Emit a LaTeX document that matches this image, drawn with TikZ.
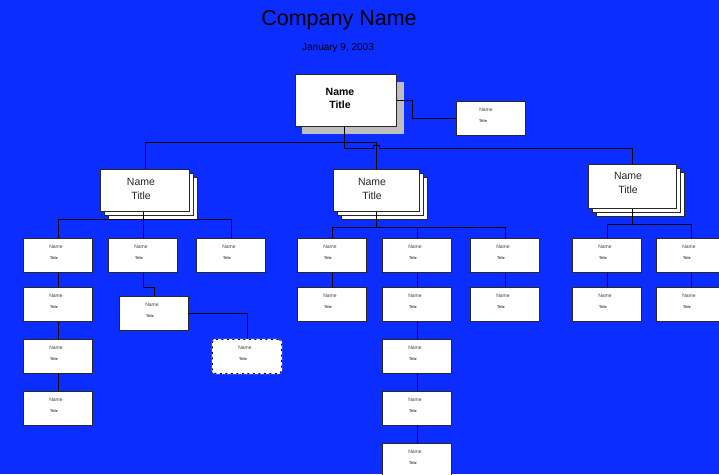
\documentclass[tikz,border=0pt]{standalone}
\usepackage{fontspec}
\setmainfont{Liberation Sans}
\definecolor{bgblue}{RGB}{11,45,255}
\definecolor{shadowgray}{RGB}{190,190,190}
\definecolor{edgegray}{RGB}{40,40,40}

% small position box: name, left x, top y
\newcommand\orgbox[4][sbox]{%
  \node[#1] (#2) at (#3,#4) {};
  \node[nametext] (#2-n) at ([xshift=-2pt,yshift=-9pt]#2.north) {Name};
  \node[titletext] (#2-t) at ([xshift=-4pt,yshift=-20pt]#2.north) {Title};
}
% manager box drawn as a stack of three sheets: name, left x, top y, width, height
\newcommand\stackbox[5]{%
  \node[box, minimum width=#4pt, minimum height=#5pt] (#1-back) at (#2+8,#3+8) {};
  \node[box, minimum width=#4pt, minimum height=#5pt] (#1-mid) at (#2+4,#3+4) {};
  \node[box, minimum width=#4pt, minimum height=#5pt] (#1) at (#2,#3) {};
}

\begin{document}
\begin{tikzpicture}[x=1pt,y=-1pt,
  box/.style={draw=edgegray, fill=white, line width=0.9pt, inner sep=0pt, anchor=north west},
  sbox/.style={box, minimum width=69pt, minimum height=34pt},
  dbox/.style={sbox, draw=black, dash pattern=on 2pt off 3.5pt, rounded corners=3pt,
    preaction={draw=white, solid, line width=1.2pt}},
  nametext/.style={inner sep=0pt, font=\fontsize{5}{6}\selectfont, text=black!75},
  titletext/.style={inner sep=0pt, font=\fontsize{3.8}{4.5}\selectfont\bfseries, text=black!80},
  mgrtext/.style={inner sep=0pt, align=center, font=\fontsize{10.5}{14}\selectfont, text=black!85},
  conn/.style={draw=black, line width=0.8pt}]

% page background
\fill[bgblue] (0,0) rectangle (719,474);
\useasboundingbox (0,0) rectangle (719,474);

% heading
\node[font=\fontsize{21.5}{24}\selectfont] (heading) at (339,20) {Company Name};
\node[font=\fontsize{10}{12}\selectfont] (date) at (338,48) {January 9, 2003};

% top position with drop shadow
\node[anchor=north west, fill=shadowgray, inner sep=0pt, minimum width=102pt, minimum height=52pt] (ceo-shadow) at (302,82) {};
\node[box, minimum width=101pt, minimum height=52pt] (ceo) at (295,74) {};
\node[font=\fontsize{10.5}{12}\selectfont\bfseries, inner sep=0pt] (ceo-n) at (340,92) {Name};
\node[font=\fontsize{10.5}{12}\selectfont\bfseries, inner sep=0pt] (ceo-t) at (340,105) {Title};

% assistant
\node[box, minimum width=69pt, minimum height=34pt] (asst) at (456,101) {};
\node[nametext] (asst-n) at (486,110) {Name};
\node[titletext] (asst-t) at (483,121) {Title};

% managers
\stackbox{m1}{100}{169}{89}{42}
\stackbox{m2}{333}{169}{86}{42}
\stackbox{m3}{588}{164}{88}{44}
\node[mgrtext] (m1-txt) at (141,189) {Name\\Title};
\node[mgrtext] (m2-txt) at (372,189) {Name\\Title};
\node[mgrtext] (m3-txt) at (628,183) {Name\\Title};

% staff
\orgbox{a1}{23}{238}
\orgbox{b1}{108}{238}
\orgbox{c1}{196}{238}
\orgbox{e1}{297}{238}
\orgbox{f1}{382}{238}
\orgbox{g1}{470}{238}
\orgbox{h1}{572}{238}
\orgbox{k1}{656}{238}

\orgbox{a2}{23}{287}
\orgbox{e2}{297}{287}
\orgbox{f2}{382}{287}
\orgbox{g2}{470}{287}
\orgbox{h2}{572}{287}
\orgbox{k2}{656}{287}

\orgbox{b2}{119}{296}
\orgbox[dbox]{vac}{212}{339}

\orgbox{a3}{23}{339}
\orgbox{a4}{23}{391}
\orgbox{f3}{382}{339}
\orgbox{f4}{382}{391}
\orgbox{f5}{382}{443}

% bus lines
\coordinate (busA) at (344,142);
\coordinate (busB) at (344,148);
\coordinate (asstj) at (412,0);
\coordinate (bus1) at (0,219);
\coordinate (bus2) at (0,227);
\coordinate (bus3) at (0,224);
\coordinate (b1k) at (0,287);

% top level
\draw[conn] (busB |- ceo.south) -- (busB);
\draw[conn] (busA -| m1.north) -- (m1.north);
\draw[conn] (busA -| m1.north) -- (busA -| m2.north) -- (m2.north);
\draw[conn] (busB) -- ([xshift=-3.5pt]busB -| m2.north) -- ++(0,-3) -- ++(6,0) -- ++(0,3)
  -- (busB -| m3.north) -- (m3.north);
\draw[conn] (ceo.east) -- (ceo.east -| asstj) |- (asst.west);

% first group
\draw[conn] (b1.north |- m1.south) -- (b1.north);
\draw[conn] (a1.north) -- (a1.north |- bus1) -- (c1.north |- bus1) -- (c1.north);
\draw[conn] (a1.south) -- (a2.north);
\draw[conn] (a2.south) -- (a3.north);
\draw[conn] (a3.south) -- (a4.north);
\draw[conn] (b1.south) -- (b1.south |- b1k) -| (b2.north);
\draw[conn] (b2.east) -| (vac.north);

% second group
\draw[conn] (m2.south) -- (m2.south |- bus2);
\draw[conn] (e1.north) -- (e1.north |- bus2) -- (g1.north |- bus2) -- (g1.north);
\draw[conn] (f1.north |- bus2) -- (f1.north);
\draw[conn] (e1.south) -- (e2.north);
\draw[conn] (f1.south) -- (f2.north);
\draw[conn] (g1.south) -- (g2.north);
\draw[conn] (f2.south) -- (f3.north);
\draw[conn] (f3.south) -- (f4.north);
\draw[conn] (f4.south) -- (f5.north);

% third group
\draw[conn] (m3.south) -- (m3.south |- bus3);
\draw[conn] (h1.north) -- (h1.north |- bus3) -- (k1.north |- bus3) -- (k1.north);
\draw[conn] (h1.south) -- (h2.north);
\draw[conn] (k1.south) -- (k2.north);

\end{tikzpicture}
\end{document}
